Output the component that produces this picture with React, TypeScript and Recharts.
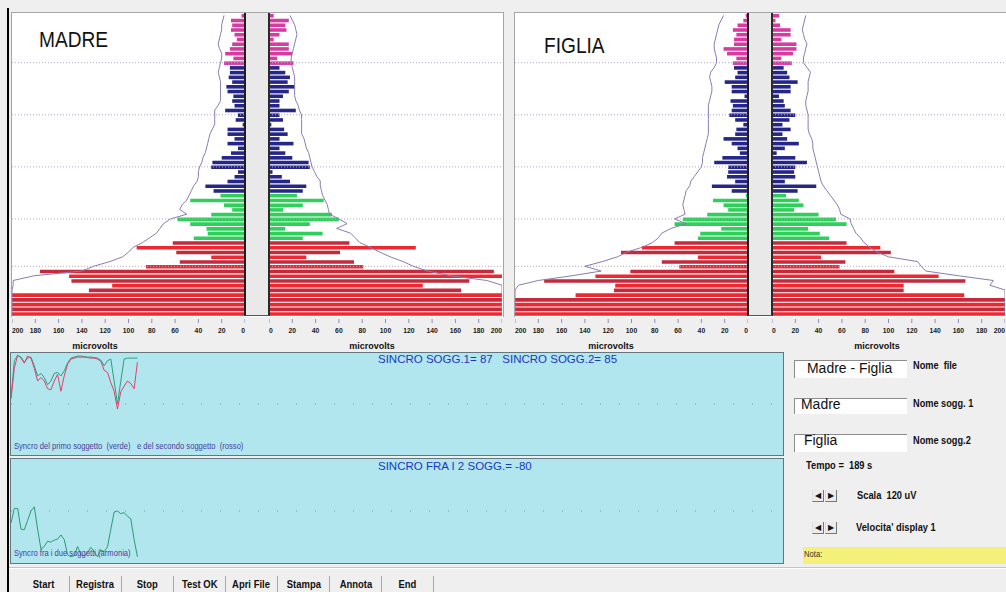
import React from "react";
import {
  ComposedChart, LineChart, Bar, Line, Cell, XAxis, YAxis, ReferenceLine,
} from "recharts";

// ─── Dati ─────────────────────────────────────────────────────────────────────

// scala orizzontale in microvolts (ogni semipannello)
const SCALA_UV = [0, 20, 40, 60, 80, 100, 120, 140, 160, 180, 200];
// righe con la linea punteggiata di riferimento
const RIGHE_PUNTEGGIATE = [10, 21, 32, 43, 53];

// 64 bande, dall'alto verso il basso – ampiezza in uV
const MADRE_SX = [
  3, 12, 11, 12, 9, 7, 11, 13, 17, 10, 18,
  13, 13, 14, 11, 16, 15, 10, 11, 9, 17, 6, 8, 2, 15, 15, 9, 15, 6, 12, 20, 28, 29, 6, 9, 15, 34, 27,
  21, 47, 18, 11, 29, 58, 47, 33, 32, 44,
  62, 93, 59, 29, 56, 85, 176, 151, 149, 114, 134,
  200, 200, 200, 200, 200,
];
const MADRE_DX = [
  4, 17, 14, 15, 9, 4, 17, 17, 20, 7, 21,
  9, 14, 18, 16, 22, 17, 12, 9, 9, 23, 9, 12, 2, 13, 16, 9, 21, 9, 14, 20, 34, 35, 3, 11, 18, 32, 29,
  24, 47, 29, 12, 54, 60, 35, 14, 46, 29,
  69, 126, 61, 32, 73, 81, 193, 200, 172, 132, 165,
  200, 200, 200, 200, 200,
];
const MADRE_INV_SX = [
  18, 19, 20, 20, 21, 22, 23, 22, 20, 20,
  21, 22, 23, 22, 21, 21, 21, 21, 21, 23,
  26, 26, 26, 26, 28, 30, 31, 32, 33, 34,
  36, 37, 39, 40, 40, 41, 44, 46, 48, 50,
  54, 56, 50, 64, 70, 73, 76, 82, 88, 96,
  100, 105, 116, 130, 140, 181, 199, 199, 200, 200,
  200, 200, 200, 200,
];
const MADRE_INV_DX = [
  18, 20, 22, 23, 24, 23, 22, 21, 20, 19,
  19, 20, 21, 22, 22, 22, 22, 22, 23, 25,
  26, 28, 28, 28, 28, 28, 30, 31, 32, 34,
  35, 36, 37, 39, 41, 44, 44, 45, 46, 48,
  50, 51, 52, 60, 67, 58, 70, 74, 78, 87,
  95, 104, 115, 124, 136, 156, 187, 200, 200, 200,
  200, 200, 200, 200,
];

const FIGLIA_SX = [
  2, 4, 9, 13, 10, 12, 12, 21, 18, 10, 13,
  12, 9, 11, 20, 14, 14, 3, 15, 13, 14, 16, 11, 4, 10, 11, 21, 14, 9, 7, 22, 29, 17, 17, 18, 11, 31, 14,
  2, 30, 21, 17, 35, 56, 63, 23, 41, 43,
  63, 91, 109, 43, 74, 59, 101, 131, 175, 114, 115, 148,
  200, 200, 200, 200,
];
const FIGLIA_DX = [
  6, 3, 7, 16, 16, 8, 21, 21, 18, 8, 17,
  10, 13, 15, 22, 16, 16, 6, 10, 11, 16, 20, 15, 9, 16, 9, 13, 23, 11, 4, 20, 30, 20, 19, 20, 11, 38, 22,
  12, 23, 27, 19, 40, 55, 64, 31, 41, 49,
  64, 93, 102, 42, 63, 58, 105, 143, 166, 113, 113, 165,
  200, 200, 200, 200,
];
const FIGLIA_INV_SX = [
  21, 23, 25, 26, 27, 28, 29, 29, 28, 27,
  27, 29, 32, 33, 32, 31, 31, 32, 33, 34,
  34, 34, 34, 34, 34, 34, 35, 36, 37, 38,
  39, 39, 40, 43, 46, 49, 50, 53, 54, 55,
  56, 55, 54, 63, 53, 66, 74, 77, 82, 91,
  104, 112, 125, 140, 126, 151, 180, 197, 200, 200,
  200, 200, 200, 200,
];
const FIGLIA_INV_DX = [
  29, 28, 27, 26, 27, 28, 30, 29, 28, 27,
  27, 30, 33, 32, 31, 31, 31, 30, 29, 29,
  30, 31, 31, 31, 31, 32, 34, 35, 35, 36,
  37, 38, 39, 40, 41, 42, 44, 47, 50, 53,
  56, 58, 59, 67, 68, 70, 72, 76, 79, 84,
  90, 100, 125, 128, 132, 160, 190, 187, 200, 200,
  200, 200, 200, 200,
];

// sincronia nel tempo (un campione ogni 5 s)
const SECONDI = [
  0, 5, 10, 15, 20, 25, 30, 35, 40, 45, 50, 55, 60, 65, 70, 75, 80, 85, 90, 95,
  100, 105, 110, 115, 120, 125, 130, 135, 140, 145, 150, 155, 160, 165, 170, 175, 180, 185, 190,
];
const SINCRO_VERDE = [
  12, 85, 95, 92, 82, 90, 92, 75, 55, 60, 52, 38, 45, 60, 62, 55, 65, 80, 90, 92,
  94, 94, 93, 92, 92, 91, 90, 86, 75, 85, 88, 45, 0, 45, 88, 90, 90, 90, 90,
];
const SINCRO_ROSSO = [
  10, 70, 96, 90, 80, 94, 90, 70, 45, 52, 45, 30, 28, 45, 58, 25, 55, 78, 88, 90,
  92, 92, 92, 91, 90, 90, 88, 84, 66, 62, 42, 25, -10, 24, 35, 45, 40, 30, 82,
];
const ARMONIA = [
  -23, 5, 5, -35, -36, -18, 0, 8, -35, -73, -68, -58, -60, -56, -54, -46, -55, -84, -88, -86,
  -68, -84, -86, -80, -70, -78, -88, -75, -78, -69, -35, -2, 0, -5, -3, -10, -15, -55, -88,
];

const PULSANTI = ["Start", "Registra", "Stop", "Test OK", "Apri File", "Stampa", "Annota", "End"];

// ─── Geometria / stile ────────────────────────────────────────────────────────

const FONT = "Arial, 'Liberation Sans', sans-serif";
const MEZZO = 233;         // larghezza di un semipannello
const COLONNA = 24;        // colonna grigia centrale
const TOP = 13;
const ALTEZZA_PLOT = 303;
const ALTEZZA_ASSE = 36;

function coloreRiga(i: number) {
  if (i <= 10) return "#d63ca0";
  if (i <= 37) return "#262688";
  if (i <= 47) return "#2ed05a";
  return i % 2 ? "#ee2830" : "#c42a3c";
}

// ─── Testo posizionato ────────────────────────────────────────────────────────

function Scritta({ x, cy, size, children, bold = false, color = "#111", sx = 1, centro = false }: {
  x: number; cy: number; size: number; children: React.ReactNode;
  bold?: boolean; color?: string; sx?: number; centro?: boolean;
}) {
  return (
    <div style={{
      position: "absolute", left: x, top: cy - size / 2,
      fontSize: size, lineHeight: `${size}px`, fontFamily: FONT,
      fontWeight: bold ? "bold" : "normal", color, whiteSpace: "nowrap",
      transform: `${centro ? "translateX(-50%) " : ""}scaleX(${sx})`,
      transformOrigin: centro ? "50% 0" : "0 0",
    }}>
      {children}
    </div>
  );
}

// ─── Tick asse microvolts ─────────────────────────────────────────────────────

// le etichette agli estremi del semipannello si allineano verso l'interno
function tickUV(rovescio: boolean) {
  return (props: any) => {
    const { x, y, payload } = props;
    const v = payload.value;
    let anchor = "middle";
    if (v === 0) anchor = rovescio ? "end" : "start";
    if (v === 200) anchor = rovescio ? "start" : "end";
    return (
      <g>
        <line x1={x} x2={x} y1={y - 5} y2={y - 1} stroke="#8890b8" />
        <text
          transform={`translate(${x},${y + 9}) scale(0.85,1)`}
          textAnchor={anchor} fontSize={8} fontWeight="bold" fontFamily={FONT} fill="#1a1a1a"
        >
          {v}
        </text>
      </g>
    );
  };
}
const TICK_SX = tickUV(true);
const TICK_DX = tickUV(false);

// ─── Semipannello a barre orizzontali ─────────────────────────────────────────

function Semi({ righe, chiave, inviluppo, rovescio }: {
  righe: any[]; chiave: string; inviluppo: string; rovescio: boolean;
}) {
  return (
    <ComposedChart
      layout="vertical" width={MEZZO} height={ALTEZZA_PLOT + ALTEZZA_ASSE}
      data={righe} margin={{ top: 0, right: 0, bottom: 0, left: 0 }}
    >
      <XAxis
        type="number" domain={[0, 200]} reversed={rovescio} ticks={SCALA_UV} interval={0}
        height={ALTEZZA_ASSE} axisLine={false} tickLine={false}
        tick={rovescio ? TICK_SX : TICK_DX} allowDataOverflow
      />
      <YAxis type="category" dataKey="riga" hide />
      {RIGHE_PUNTEGGIATE.map((r) => (
        <ReferenceLine key={r} y={r} stroke="#b4a8c4" strokeDasharray="1 2" />
      ))}
      <Bar dataKey={chiave} barSize={3.6} isAnimationActive={false}>
        {righe.map((_, i) => <Cell key={i} fill={coloreRiga(i)} />)}
      </Bar>
      <Line dataKey={inviluppo} stroke="#8a7cae" strokeWidth={1} dot={false} isAnimationActive={false} />
    </ComposedChart>
  );
}

function Farfalla({ x0, titolo, titoloX, titoloY, sx, dx, invSx, invDx, micro }: {
  x0: number; titolo: string; titoloX: number; titoloY: number;
  sx: number[]; dx: number[]; invSx: number[]; invDx: number[]; micro: [number, number];
}) {
  const righe = sx.map((v, i) => ({ riga: i, sx: v, dx: dx[i], invSx: invSx[i], invDx: invDx[i] }));
  const larghezza = MEZZO * 2 + COLONNA;
  const box = (left: number) => ({ position: "absolute" as const, left, top: TOP });
  return (
    <>
      <div style={{
        position: "absolute", left: x0 - 1, top: TOP - 1, width: larghezza + 1, height: ALTEZZA_PLOT + 1,
        background: "#fff", borderTop: "1px solid #a6a6a6", borderLeft: "1px solid #a6a6a6", borderRight: "1px solid #a6a6a6",
      }} />
      <div style={box(x0)}>
        <Semi righe={righe} chiave="sx" inviluppo="invSx" rovescio />
      </div>
      <div style={box(x0 + MEZZO + COLONNA)}>
        <Semi righe={righe} chiave="dx" inviluppo="invDx" rovescio={false} />
      </div>
      <div style={{
        position: "absolute", left: x0 + MEZZO - 1, top: TOP, width: COLONNA + 2, height: ALTEZZA_PLOT,
        boxSizing: "border-box", background: "#e9e9e9",
        borderLeft: "2px solid #1e1e1e", borderRight: "2px solid #2a2a2a", borderBottom: "1px solid #555",
      }} />
      <Scritta x={titoloX} cy={titoloY} size={22} sx={0.87}>{titolo}</Scritta>
      <Scritta x={micro[0]} cy={346} size={9} bold centro>microvolts</Scritta>
      <Scritta x={micro[1]} cy={346} size={9} bold centro>microvolts</Scritta>
    </>
  );
}

// ─── Pannelli di sincronia ────────────────────────────────────────────────────

const sincro = SECONDI.map((t, i) => ({
  t, verde: SINCRO_VERDE[i], rosso: SINCRO_ROSSO[i], armonia: ARMONIA[i],
}));

function Sincro({ top, h, children }: { top: number; h: number; children: React.ReactNode }) {
  return (
    <div style={{
      position: "absolute", left: 10, top, width: 774, height: h,
      boxSizing: "border-box", border: "1px solid #66767e", background: "#b2e6ee",
    }}>
      <LineChart width={772} height={h - 2} data={sincro} margin={{ top: 0, right: 0, bottom: 0, left: 0 }}>
        <XAxis type="number" dataKey="t" domain={[0, 1160]} hide />
        <YAxis domain={[-100, 100]} hide />
        <ReferenceLine y={0} stroke="#7f98a4" strokeDasharray="1 18" />
        {children}
      </LineChart>
    </div>
  );
}

// ─── Controlli a destra ───────────────────────────────────────────────────────

function Casella({ top, h, testo, tx, cy }: { top: number; h: number; testo: string; tx: number; cy: number }) {
  return (
    <>
      <div style={{
        position: "absolute", left: 794, top, width: 112, height: h, background: "#fff",
        borderTop: "1px solid #8c8c8c", borderLeft: "1px solid #8c8c8c",
      }} />
      <Scritta x={tx} cy={cy} size={15.5} sx={0.9}>{testo}</Scritta>
    </>
  );
}

function Frecce({ top }: { top: number }) {
  const tasto = (left: number, f: string) => (
    <div style={{
      position: "absolute", left, top, width: 12, height: 12, boxSizing: "border-box",
      borderBottom: "1px solid #777", borderRight: "1px solid #777", borderLeft: "1px solid #ddd",
      background: "#ececec", fontSize: 8, lineHeight: "11px", textAlign: "center", color: "#111",
      fontFamily: "'DejaVu Sans', sans-serif",
    }}>{f}</div>
  );
  return <>{tasto(812, "◀")}{tasto(825, "▶")}</>;
}

// ─── App ──────────────────────────────────────────────────────────────────────

export default function App() {
  return (
    <div style={{
      position: "absolute", left: 0, top: 0, width: 1006, height: 592,
      overflow: "hidden", background: "#efefef", fontFamily: FONT,
    }}>
      <div style={{ position: "absolute", left: 7, top: 8, width: 2, height: 584, background: "#000" }} />

      <Farfalla
        x0={12} titolo="MADRE" titoloX={39} titoloY={40}
        sx={MADRE_SX} dx={MADRE_DX} invSx={MADRE_INV_SX} invDx={MADRE_INV_DX} micro={[95, 372]}
      />
      <Farfalla
        x0={515} titolo="FIGLIA" titoloX={544} titoloY={46}
        sx={FIGLIA_SX} dx={FIGLIA_DX} invSx={FIGLIA_INV_SX} invDx={FIGLIA_INV_DX} micro={[611, 877]}
      />

      <Sincro top={352} h={104}>
        <Line dataKey="verde" stroke="#2e9e78" strokeWidth={1} dot={false} isAnimationActive={false} />
        <Line dataKey="rosso" stroke="#e0406c" strokeWidth={1} dot={false} isAnimationActive={false} />
      </Sincro>
      <Sincro top={458} h={106}>
        <Line dataKey="armonia" stroke="#2a9c70" strokeWidth={1} dot={false} isAnimationActive={false} />
      </Sincro>

      <Scritta x={378} cy={360} size={11.5} color="#2038c0">
        {"SINCRO SOGG.1= 87\u00a0\u00a0 SINCRO SOGG.2= 85"}
      </Scritta>
      <Scritta x={14} cy={446} size={9.5} sx={0.8} color="#483c9c">
        {"Syncro del primo soggetto\u00a0 (verde)\u00a0\u00a0 e del secondo soggetto\u00a0 (rosso)"}
      </Scritta>
      <Scritta x={378} cy={467} size={11.5} color="#2038c0">SINCRO FRA I 2 SOGG.= -80</Scritta>
      <Scritta x={14} cy={553} size={9.5} sx={0.8} color="#483c9c">Syncro fra i due soggetti (armonia)</Scritta>

      <Casella top={360} h={17} testo="Madre - Figlia" tx={807} cy={368} />
      <Casella top={398} h={15} testo="Madre" tx={801} cy={404} />
      <Casella top={434} h={17} testo="Figlia" tx={804} cy={440} />
      <Scritta x={913} cy={366} size={10} bold sx={0.92}>{"Nome\u00a0 file"}</Scritta>
      <Scritta x={913} cy={404} size={10} bold sx={0.92}>Nome sogg. 1</Scritta>
      <Scritta x={913} cy={441} size={10} bold sx={0.92}>Nome sogg.2</Scritta>
      <Scritta x={806} cy={466} size={10} bold sx={0.93}>{"Tempo =\u00a0 189 s"}</Scritta>
      <Frecce top={490} />
      <Scritta x={857} cy={496} size={10} bold sx={0.93}>{"Scala\u00a0 120 uV"}</Scritta>
      <Frecce top={522} />
      <Scritta x={856} cy={528} size={10} bold sx={0.93}>{"Velocita' display 1"}</Scritta>
      <div style={{ position: "absolute", left: 803, top: 547, width: 203, height: 17, background: "#f5f07a" }} />
      <Scritta x={804} cy={554} size={9} sx={0.85} color="#333">Nota:</Scritta>

      <div style={{ position: "absolute", left: 9, top: 567, width: 997, height: 1, background: "#c4c4c4" }} />
      <div style={{ position: "absolute", left: 9, top: 568, width: 997, height: 1, background: "#fff" }} />
      <div style={{ position: "absolute", left: 18, top: 576, display: "flex" }}>
        {PULSANTI.map((p) => (
          <div key={p} style={{
            width: 51, height: 16, borderRight: "1px solid #a8a8a8", textAlign: "center",
            fontSize: 11, lineHeight: "16px", fontWeight: "bold", color: "#111",
          }}>
            <span style={{ display: "inline-block", transform: "scaleX(0.86)" }}>{p}</span>
          </div>
        ))}
      </div>
    </div>
  );
}
